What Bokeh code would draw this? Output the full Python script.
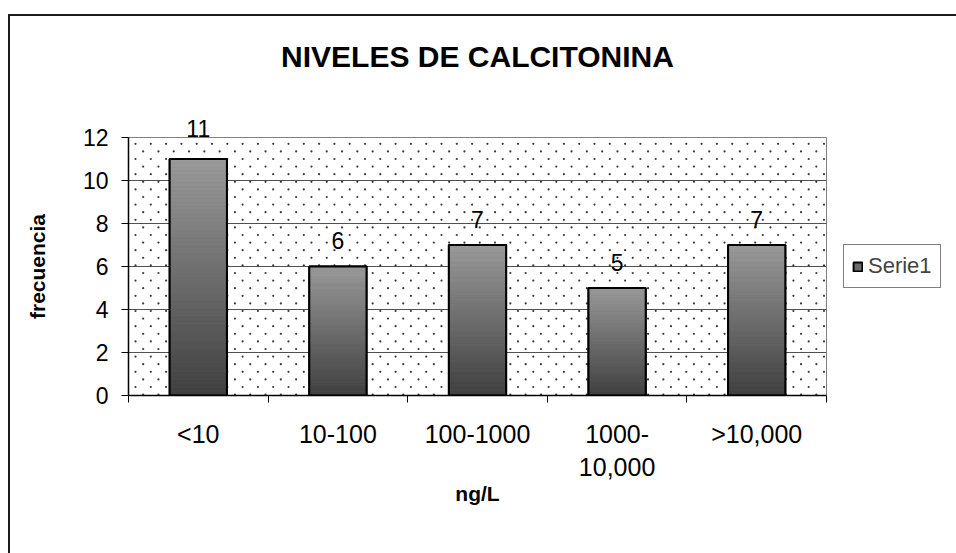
from bokeh.plotting import figure
from bokeh.models import (Range1d, FixedTicker, ColumnDataSource, LabelSet,
                          Legend, LegendItem, LinearAxis)
from bokeh.core.properties import value
from bokeh.embed import file_html
from bokeh.resources import INLINE

# ---- data ----
categories = ["<10", "10-100", "100-1000", "1000-\n10,000", ">10,000"]
frecuencia = [11, 6, 7, 5, 7]
y_ticks = [0, 2, 4, 6, 8, 10, 12]
series_name = "Serie1"
chart_title = "NIVELES DE CALCITONINA"
x_title = "ng/L"
y_title = "frecuencia"

FONT = "Liberation Sans"
n = len(categories)
centers = [i + 0.5 for i in range(n)]
bounds = list(range(n + 1))
ymax = max(y_ticks)
BAR_W = 0.41

FRAME_W, FRAME_H = 698, 258
B_LEFT, B_RIGHT, B_TOP, B_BOTTOM = 118, 130, 121, 158
LABEL_OFF = 26          # px between bar top and its value label centre
LABEL_PX = 23

p = figure(frame_width=FRAME_W, frame_height=FRAME_H,
           output_backend="svg", toolbar_location=None,
           x_range=Range1d(0, n), y_range=Range1d(0, ymax),
           min_border_left=B_LEFT, min_border_right=B_RIGHT,
           min_border_top=B_TOP, min_border_bottom=B_BOTTOM)
xa = p.below[0]
ya = p.left[0]
p.styles = {"margin-left": "8px", "margin-top": "14px",
            "border-left": "2px solid #1a1a1a", "border-top": "2px solid #1a1a1a"}
p.background_fill_color = "white"
p.border_fill_color = "white"
p.outline_line_color = "#808080"
p.outline_line_width = 1

# grid
p.xgrid.visible = False
p.ygrid.ticker = FixedTicker(ticks=y_ticks)
p.ygrid.grid_line_color = "#505050"
p.ygrid.grid_line_width = 1

# dotted background pattern (staggered lattice, generated over the frame)
px_x = n / FRAME_W
px_y = ymax / FRAME_H
dx, dy = 15.3, 7.6
dots_x, dots_y = [], []
r = 0
ypx = 6.3
while ypx < FRAME_H:
    xpx = 7 + (r % 2) * dx / 2
    while xpx < FRAME_W:
        dots_x.append(xpx * px_x)
        dots_y.append(ymax - ypx * px_y)
        xpx += dx
    r += 1
    ypx += dy
p.scatter(dots_x, dots_y, marker="circle", size=2.2, fill_color="#3a3a3a",
          line_color=None)

# bars: base (for legend), gradient slices, outline
src = ColumnDataSource(dict(x=centers, top=frecuencia,
                            left=[c - BAR_W / 2 for c in centers],
                            right=[c + BAR_W / 2 for c in centers]))
base = p.quad(left="left", right="right", bottom=0, top="top", source=src,
              fill_color="#6b6b6b", line_color="black", line_width=2)

NS = 60
lo, hi = 0x40, 0x9a
sl = dict(left=[], right=[], bottom=[], top=[], color=[])
for c, v in zip(centers, frecuencia):
    for k in range(NS):
        sl["left"].append(c - BAR_W / 2)
        sl["right"].append(c + BAR_W / 2)
        sl["bottom"].append(v * k / NS)
        sl["top"].append(v * (k + 1) / NS)
        g = int(round(lo + (hi - lo) * (k + 0.5) / NS))
        sl["color"].append("#%02x%02x%02x" % (g, g, g))
p.quad(left="left", right="right", bottom="bottom", top="top", source=ColumnDataSource(sl),
       fill_color="color", line_color="color", line_width=0.5)
p.quad(left="left", right="right", bottom=0, top="top", source=src,
       fill_alpha=0, line_color="black", line_width=2)

# data labels: those that fit inside the frame via LabelSet, the others on an axis above
fits = [v / px_y + LABEL_OFF + LABEL_PX / 2 <= FRAME_H for v in frecuencia]
inside = [(c, v) for c, v, f in zip(centers, frecuencia, fits) if f]
outside = [(c, v) for c, v, f in zip(centers, frecuencia, fits) if not f]
lsrc = ColumnDataSource(dict(x=[c for c, _ in inside], y=[v for _, v in inside],
                             text=[str(v) for _, v in inside]))
p.add_layout(LabelSet(x="x", y="y", text="text", source=lsrc, y_offset=LABEL_OFF,
                      text_align="center", text_baseline="middle",
                      text_font=value(FONT), text_font_size=value(f"{LABEL_PX}px"),
                      text_color="black"))

top_axis = LinearAxis(ticker=FixedTicker(ticks=[c for c, _ in outside]),
                      major_label_overrides={c: str(v) for c, v in outside})
top_axis.axis_line_color = None
top_axis.major_tick_line_color = None
top_axis.minor_tick_line_color = None
top_axis.major_tick_out = 0
top_axis.major_tick_in = 0
top_axis.major_label_standoff = 1
top_axis.major_label_text_font = FONT
top_axis.major_label_text_font_size = f"{LABEL_PX}px"
top_axis.major_label_text_color = "black"
top_axis.axis_label = chart_title
top_axis.axis_label_text_font = FONT
top_axis.axis_label_text_font_size = "30px"
top_axis.axis_label_text_font_style = "bold"
top_axis.axis_label_text_color = "black"
top_axis.axis_label_standoff = 44
p.add_layout(top_axis, "above")

# x axis
xa.ticker = FixedTicker(ticks=centers, minor_ticks=bounds)
xa.major_label_overrides = {c: cat for c, cat in zip(centers, categories)}
xa.major_tick_line_color = None
xa.major_tick_out = 0
xa.major_tick_in = 0
xa.minor_tick_line_color = "black"
xa.minor_tick_out = 7
xa.minor_tick_in = 0
xa.axis_line_color = "black"
xa.axis_line_width = 1.5
xa.major_label_standoff = 17
xa.major_label_text_font = FONT
xa.major_label_text_font_size = "25px"
xa.major_label_text_line_height = 1.2
xa.major_label_text_color = "black"
xa.axis_label = x_title
xa.axis_label_text_font = FONT
xa.axis_label_text_font_size = "21px"
xa.axis_label_text_font_style = "bold"
xa.axis_label_text_color = "black"
xa.axis_label_standoff = -2

# y axis
ya.ticker = FixedTicker(ticks=y_ticks)
ya.major_tick_out = 7
ya.major_tick_in = 0
ya.minor_tick_line_color = None
ya.axis_line_color = "black"
ya.axis_line_width = 1.5
ya.major_label_standoff = 13
ya.major_label_text_font = FONT
ya.major_label_text_font_size = "23px"
ya.major_label_text_color = "black"
ya.axis_label = y_title
ya.axis_label_text_font = FONT
ya.axis_label_text_font_size = "21px"
ya.axis_label_text_font_style = "bold"
ya.axis_label_text_color = "black"
ya.axis_label_standoff = 31

# legend
legend = Legend(items=[LegendItem(label=series_name, renderers=[base])],
                location="center_left", orientation="vertical",
                border_line_color="black", border_line_width=1,
                background_fill_color="white", background_fill_alpha=1,
                label_text_font=FONT, label_text_font_size="22px",
                glyph_width=11, glyph_height=11, label_standoff=5,
                padding=8, margin=17, spacing=0)
p.add_layout(legend, "right")

open("out.html", "w").write(file_html(p, INLINE))
